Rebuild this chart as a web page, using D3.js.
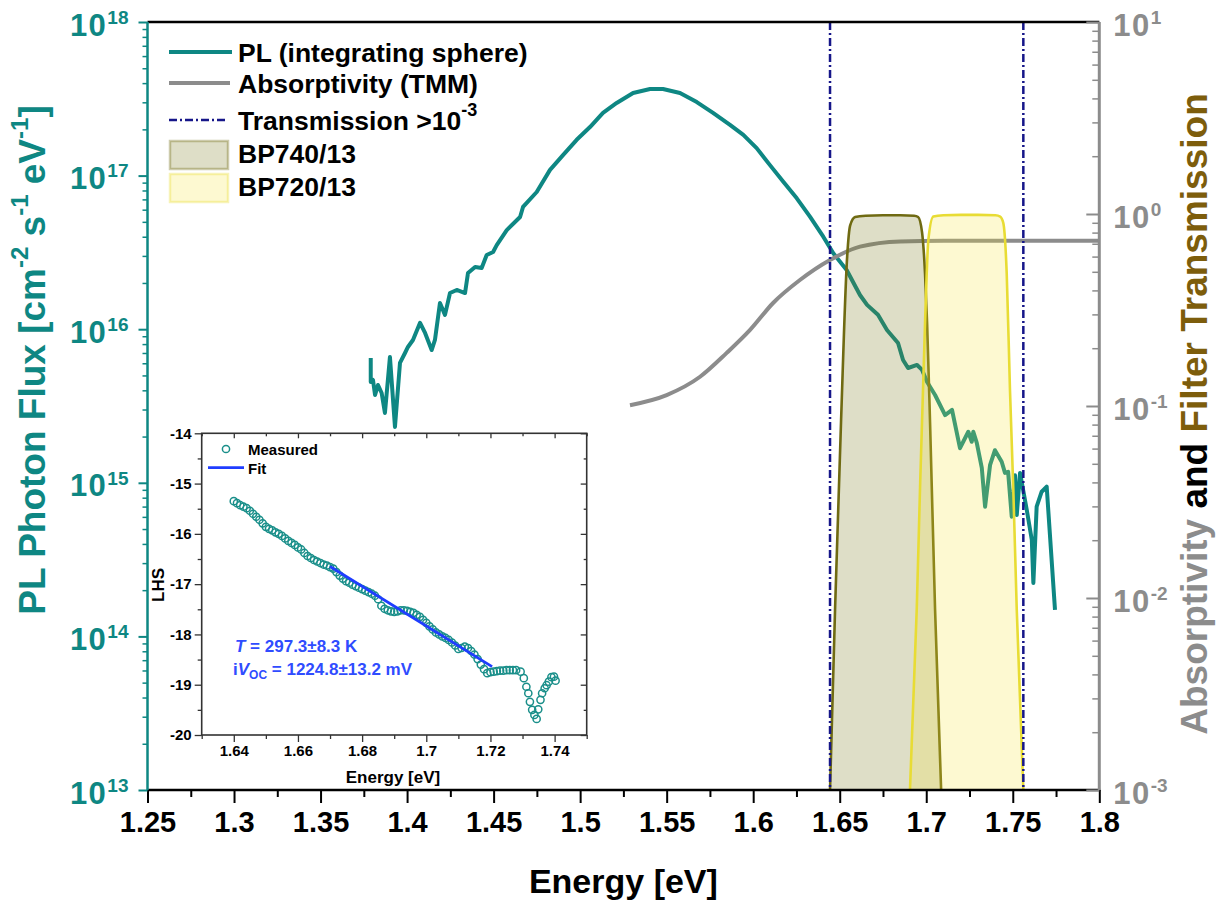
<!DOCTYPE html>
<html lang="en">
<head>
<meta charset="utf-8"/>
<script src="https://d3js.org/d3.v7.min.js"></script>
<style>
  body { margin: 0; background: #fff; }
  svg { font-family: "Liberation Sans", Arial, sans-serif; font-weight: bold; }
</style>
</head>
<body>
<svg id="chart" width="1224" height="902"></svg>
<script>
// ---- data ----
const xTicks = [1.25, 1.3, 1.35, 1.4, 1.45, 1.5, 1.55, 1.6, 1.65, 1.7, 1.75, 1.8];
const leftExp = [13, 14, 15, 16, 17, 18];
const rightExp = [-3, -2, -1, 0, 1];

const plE = [1.3790,1.3790,1.3803,1.3815,1.3832,1.3853,1.3872,1.3901,1.3930,1.3959,
  1.3988,1.4005,1.4034,1.4075,1.4104,1.4142,1.4161,1.4190,1.4219,1.4248,
  1.4287,1.4335,1.4352,1.4393,1.4431,1.4460,1.4497,1.4518,1.4576,1.4653,
  1.4670,1.4749,1.4826,1.4901,1.4980,1.5057,1.5132,1.5211,1.5306,1.5404,
  1.5479,1.5577,1.5674,1.5768,1.5866,1.5943,1.6020,1.6097,1.6174,1.6252,
  1.6328,1.6405,1.6463,1.6540,1.6617,1.6658,1.6721,1.6773,1.6837,1.6866,
  1.6895,1.6947,1.6976,1.7005,1.7051,1.7109,1.7149,1.7195,1.7243,1.7263,
  1.7272,1.7292,1.7321,1.7340,1.7369,1.7397,1.7436,1.7455,1.7473,1.7494,
  1.7513,1.7523,1.7542,1.7581,1.7610,1.7619,1.7638,1.7667,1.7696,1.7744];
const plFlux = [6.49e15,4.53e15,4.67e15,3.73e15,4.33e15,3.84e15,2.85e15,6.59e15,2.31e15,6.03e15,
  7.00e15,7.66e15,8.51e15,1.10e16,9.45e15,7.32e15,8.51e15,1.48e16,1.24e16,1.72e16,
  1.80e16,1.72e16,2.32e16,2.54e16,2.50e16,3.04e16,3.18e16,3.53e16,4.42e16,5.38e16,
  6.25e16,7.82e16,1.09e17,1.36e17,1.71e17,2.07e17,2.56e17,2.97e17,3.45e17,3.66e17,
  3.66e17,3.45e17,3.01e17,2.56e17,2.14e17,1.84e17,1.51e17,1.17e17,9.13e16,7.11e16,
  5.40e16,4.00e16,3.12e16,2.43e16,1.67e16,1.44e16,1.24e16,9.88e15,8.13e15,6.30e15,
  5.59e15,5.85e15,5.43e15,4.53e15,3.73e15,2.76e15,2.98e15,1.68e15,2.15e15,1.85e15,
  2.15e15,1.82e15,1.25e15,6.99e14,1.31e15,1.63e15,1.37e15,1.16e15,1.18e15,6.02e14,
  1.12e15,6.17e14,1.16e15,6.65e14,4.24e14,2.23e14,6.99e14,8.75e14,9.43e14,1.49e14];

const absE = [1.5288, 1.5500, 1.5693, 1.5847, 1.5982, 1.6115, 1.6270, 1.6444, 1.6617, 1.6850, 1.7100, 1.8000];
const absA = [0.101, 0.114, 0.142, 0.189, 0.249, 0.344, 0.453, 0.576, 0.676, 0.720, 0.725, 0.725];

const bp740E = [1.6444, 1.6473, 1.6508, 1.6543, 1.6560, 1.6589, 1.6650, 1.6750, 1.6850, 1.6930, 1.6953, 1.6976, 1.6993, 1.7005, 1.7022, 1.7051, 1.7086];
const bp740T = [0.001, 0.0087, 0.085, 0.60, 0.87, 0.965, 0.98, 0.985, 0.985, 0.98, 0.965, 0.80, 0.49, 0.27, 0.082, 0.0087, 0.001];
const bp720E = [1.6906, 1.6945, 1.6964, 1.6993, 1.7012, 1.7041, 1.7100, 1.7200, 1.7300, 1.7400, 1.7427, 1.7445, 1.7465, 1.7484, 1.7503, 1.7523, 1.7561];
const bp720T = [0.001, 0.0087, 0.037, 0.27, 0.73, 0.97, 0.985, 0.99, 0.99, 0.985, 0.97, 0.90, 0.49, 0.12, 0.037, 0.0087, 0.001];
const transLimits = [1.6444, 1.7561];

// inset: LHS vs energy
const insetE = [1.640,1.641,1.642,1.643,1.644,1.645,1.646,1.647,1.648,1.649,
  1.650,1.651,1.652,1.653,1.654,1.655,1.656,1.657,1.658,1.659,
  1.660,1.661,1.662,1.663,1.664,1.665,1.666,1.667,1.668,1.669,
  1.670,1.671,1.672,1.673,1.674,1.675,1.676,1.677,1.678,1.679,
  1.680,1.681,1.682,1.683,1.684,1.685,1.686,1.687,1.688,1.689,
  1.690,1.691,1.692,1.693,1.694,1.695,1.696,1.697,1.698,1.699,
  1.700,1.701,1.702,1.703,1.704,1.705,1.706,1.707,1.708,1.709,
  1.710,1.711,1.712,1.713,1.714,1.715,1.716,1.717,1.718,1.719,
  1.720,1.721,1.722,1.723,1.724,1.725,1.726,1.727,1.728,
  1.7294,1.7304,1.7312,1.7318,1.7323,1.7330,1.7337,1.7344,1.7349,1.7356,
  1.7361,1.7369,1.7375,1.7382,1.7390,1.7398,1.7403];
const insetLHS = [-15.35,-15.39,-15.43,-15.46,-15.49,-15.54,-15.60,-15.66,-15.72,-15.79,
  -15.86,-15.90,-15.93,-15.97,-16.00,-16.04,-16.09,-16.14,-16.18,-16.22,
  -16.27,-16.31,-16.38,-16.44,-16.48,-16.52,-16.55,-16.58,-16.61,-16.63,
  -16.66,-16.69,-16.76,-16.83,-16.89,-16.94,-16.97,-17.01,-17.04,-17.07,
  -17.10,-17.13,-17.16,-17.19,-17.23,-17.30,-17.43,-17.49,-17.52,-17.54,
  -17.55,-17.54,-17.52,-17.52,-17.53,-17.55,-17.57,-17.61,-17.65,-17.71,
  -17.77,-17.84,-17.90,-17.96,-18.00,-18.04,-18.07,-18.11,-18.16,-18.22,
  -18.29,-18.27,-18.24,-18.27,-18.33,-18.40,-18.49,-18.60,-18.69,-18.77,
  -18.75,-18.74,-18.73,-18.72,-18.72,-18.71,-18.71,-18.71,-18.71,
  -18.74,-18.87,-19.04,-19.17,-19.34,-19.50,-19.60,-19.68,-19.49,-19.30,
  -19.17,-19.07,-19.01,-18.94,-18.85,-18.84,-18.92];
const fitE = [1.670, 1.7205];
const fitLHS = [-16.65, -18.64];
const insetXTicks = [1.64, 1.66, 1.68, 1.7, 1.72, 1.74];
const insetYTicks = [-20, -19, -18, -17, -16, -15, -14];

// ---- colours ----
const teal = "#0e8783", gray = "#8c8c8c", navy = "#161689";
const olive = "#6f6a12", yellowLine = "#e8dc34";

const svg = d3.select("#chart");
const L = 147.5, R = 1099.3, T = 22, B = 790;

const x = d3.scaleLinear().domain([1.25, 1.8]).range([L, R]);
const yL = d3.scaleLog().domain([1e13, 1e18]).range([B, T]);
const yR = d3.scaleLog().domain([1e-3, 10]).range([B, T]);

function logMinors(e0, e1) {
  const out = [];
  for (let e = e0; e < e1; e++) for (let m = 2; m <= 9; m++) out.push(m * Math.pow(10, e));
  return out;
}

// ---- main curves ----
const pl = plE.map((e, i) => [e, plFlux[i]]);
svg.append("path")
  .attr("d", d3.line().x(d => x(d[0])).y(d => yL(d[1]))(pl))
  .attr("fill", "none").attr("stroke", teal).attr("stroke-width", 4)
  .attr("stroke-linejoin", "round");

const ab = absE.map((e, i) => [e, absA[i]]);
svg.append("path")
  .attr("d", d3.line().curve(d3.curveMonotoneX).x(d => x(d[0])).y(d => yR(d[1]))(ab))
  .attr("fill", "none").attr("stroke", gray).attr("stroke-width", 4);

function filter(E, Tr, fill, stroke) {
  const d = E.map((e, i) => [e, Tr[i]]);
  svg.append("path")
    .attr("d", d3.area().curve(d3.curveMonotoneX).x(p => x(p[0])).y0(yR(1e-3)).y1(p => yR(p[1]))(d))
    .attr("fill", fill);
  svg.append("path")
    .attr("d", d3.line().curve(d3.curveMonotoneX).x(p => x(p[0])).y(p => yR(p[1]))(d))
    .attr("fill", "none").attr("stroke", stroke).attr("stroke-width", 2.6);
}
filter(bp740E, bp740T, "rgba(125,125,30,0.25)", olive);
filter(bp720E, bp720T, "rgba(245,230,55,0.23)", yellowLine);

svg.selectAll(".lim").data(transLimits).enter().append("line")
  .attr("x1", d => x(d)).attr("x2", d => x(d)).attr("y1", T).attr("y2", B)
  .attr("stroke", navy).attr("stroke-width", 2.5).attr("stroke-dasharray", "8,3,2,3");

// ---- axes ----
const gx = svg.append("g").attr("transform", `translate(0,${B})`)
  .call(d3.axisBottom(x).tickValues(xTicks).tickSize(13).tickPadding(8).tickFormat(d => String(d)));
gx.select(".domain").remove();
gx.selectAll("line").attr("stroke", "#000").attr("stroke-width", 2);
gx.selectAll("text").attr("font-size", 29).attr("fill", "#000");
const xMinor = xTicks.slice(0, -1).map(d => d + 0.025);
svg.append("g").attr("transform", `translate(0,${B})`)
  .call(d3.axisBottom(x).tickValues(xMinor).tickSize(7).tickFormat(""))
  .call(g => g.select(".domain").remove())
  .selectAll("line").attr("stroke", "#000").attr("stroke-width", 2);
svg.append("line").attr("x1", L).attr("x2", R + 1).attr("y1", B).attr("y2", B).attr("stroke", "#000").attr("stroke-width", 2.5);
svg.append("line").attr("x1", L).attr("x2", R).attr("y1", T).attr("y2", T).attr("stroke", "#000").attr("stroke-width", 2.5);

function supLabels(sel, color) {
  sel.selectAll(".tick text").each(function(d) {
    const t = d3.select(this).text(null).attr("fill", color).attr("dy", null).attr("y", 13);
    t.append("tspan").attr("font-size", 31).attr("letter-spacing", 1.5).text("10");
    t.append("tspan").attr("font-size", 19).attr("dy", "-0.62em").text(Math.round(Math.log10(d)));
  });
}

const gl = svg.append("g").attr("transform", `translate(${L},0)`)
  .call(d3.axisLeft(yL).tickValues(leftExp.map(e => Math.pow(10, e))).tickSize(9).tickPadding(10));
gl.select(".domain").remove();
gl.selectAll("line").attr("stroke", teal).attr("stroke-width", 2);
supLabels(gl, teal);
svg.append("g").attr("transform", `translate(${L},0)`)
  .call(d3.axisLeft(yL).tickValues(logMinors(13, 18)).tickSize(5).tickFormat(""))
  .call(g => g.select(".domain").remove())
  .selectAll("line").attr("stroke", teal).attr("stroke-width", 1.5);
svg.append("line").attr("x1", L).attr("x2", L).attr("y1", T).attr("y2", B).attr("stroke", teal).attr("stroke-width", 2.5);

const gr = svg.append("g").attr("transform", `translate(${R},0)`)
  .call(d3.axisRight(yR).tickValues(rightExp.map(e => Math.pow(10, e))).tickSize(-13).tickPadding(14));
gr.select(".domain").remove();
gr.selectAll("line").attr("stroke", gray).attr("stroke-width", 2);
supLabels(gr, gray);
svg.append("g").attr("transform", `translate(${R},0)`)
  .call(d3.axisLeft(yR).tickValues(logMinors(-3, 1)).tickSize(7).tickFormat(""))
  .call(g => g.select(".domain").remove())
  .selectAll("line").attr("stroke", gray).attr("stroke-width", 1.5);
svg.append("line").attr("x1", R).attr("x2", R).attr("y1", T).attr("y2", B).attr("stroke", gray).attr("stroke-width", 3);

// ---- axis titles ----
svg.append("text").attr("x", (L + R) / 2).attr("y", 893).attr("text-anchor", "middle")
  .attr("font-size", 34).attr("fill", "#000").text("Energy [eV]");

const lt = svg.append("text").attr("transform", "translate(45,360) rotate(-90)")
  .attr("text-anchor", "middle").attr("font-size", 37).attr("fill", teal);
lt.append("tspan").text("PL Photon Flux [cm");
lt.append("tspan").attr("font-size", 24).attr("dy", "-0.7em").text("-2");
lt.append("tspan").attr("dy", "0.45em").text(" s");
lt.append("tspan").attr("font-size", 24).attr("dy", "-0.7em").text("-1");
lt.append("tspan").attr("dy", "0.45em").text(" eV");
lt.append("tspan").attr("font-size", 24).attr("dy", "-0.7em").text("-1");
lt.append("tspan").attr("dy", "0.45em").text("]");

const rt = svg.append("text").attr("transform", "translate(1207,414) rotate(-90)")
  .attr("text-anchor", "middle").attr("font-size", 37);
rt.append("tspan").attr("fill", gray).text("Absorptivity ");
rt.append("tspan").attr("fill", "#000").text("and ");
rt.append("tspan").attr("fill", "#7d5d0c").text("Filter Transmission");

// ---- legend ----
const lg = svg.append("g").attr("font-size", 26.5).attr("fill", "#000");
lg.append("line").attr("x1", 169).attr("x2", 232).attr("y1", 52).attr("y2", 52).attr("stroke", teal).attr("stroke-width", 4);
lg.append("text").attr("x", 238).attr("y", 61.5).text("PL (integrating sphere)");
lg.append("line").attr("x1", 169).attr("x2", 230).attr("y1", 83).attr("y2", 83).attr("stroke", gray).attr("stroke-width", 4);
lg.append("text").attr("x", 238).attr("y", 93).text("Absorptivity (TMM)");
lg.append("line").attr("x1", 169).attr("x2", 226).attr("y1", 120).attr("y2", 120).attr("stroke", navy).attr("stroke-width", 2.5).attr("stroke-dasharray", "8,3,2,3");
const tl = lg.append("text").attr("x", 238).attr("y", 130);
tl.append("tspan").text("Transmission >10");
tl.append("tspan").attr("font-size", 18).attr("dy", "-0.8em").text("-3");
lg.append("rect").attr("x", 170).attr("y", 141).attr("width", 58).attr("height", 28)
  .attr("fill", "rgba(125,125,30,0.25)").attr("stroke", "rgba(111,106,18,0.35)").attr("stroke-width", 2.5);
lg.append("text").attr("x", 238).attr("y", 163).text("BP740/13");
lg.append("rect").attr("x", 170).attr("y", 174).attr("width", 58).attr("height", 28)
  .attr("fill", "rgba(245,230,55,0.23)").attr("stroke", "rgba(232,220,52,0.35)").attr("stroke-width", 2.5);
lg.append("text").attr("x", 238).attr("y", 196).text("BP720/13");

// ---- inset ----
const iL = 201.7, iR = 586.7, iT = 433.3, iB = 735;
const ix = d3.scaleLinear().domain([1.63, 1.75]).range([iL, iR]);
const iy = d3.scaleLinear().domain([-20, -14]).range([iB, iT]);
const ins = svg.append("g");
ins.append("rect").attr("x", iL).attr("y", iT).attr("width", iR - iL).attr("height", iB - iT)
  .attr("fill", "#fff").attr("stroke", "#333").attr("stroke-width", 1.6);

const ixMinor = [1.63, 1.65, 1.67, 1.69, 1.71, 1.73, 1.75];
const iyMinor = [-19.5, -18.5, -17.5, -16.5, -15.5, -14.5];
function insetAxis(axis, tr, vals, size, fmt, fs) {
  const g = ins.append("g").attr("transform", tr)
    .call(axis.tickValues(vals).tickSize(size).tickPadding(3).tickFormat(fmt));
  g.select(".domain").remove();
  g.selectAll("line").attr("stroke", "#333").attr("stroke-width", 1.3);
  g.selectAll("text").attr("font-size", fs).attr("fill", "#000");
  return g;
}
insetAxis(d3.axisBottom(ix), `translate(0,${iB})`, insetXTicks, 7, d => String(d), 15);
insetAxis(d3.axisBottom(ix), `translate(0,${iB})`, ixMinor, 4, "", 15);
insetAxis(d3.axisLeft(iy), `translate(${iL},0)`, insetYTicks, 7, d => String(d), 15);
insetAxis(d3.axisLeft(iy), `translate(${iL},0)`, iyMinor, 4, "", 15);
insetAxis(d3.axisTop(ix), `translate(0,${iT})`, insetXTicks, -5, "", 15);
insetAxis(d3.axisTop(ix), `translate(0,${iT})`, ixMinor, -3, "", 15);
insetAxis(d3.axisRight(iy), `translate(${iR},0)`, insetYTicks, -6, "", 15);
insetAxis(d3.axisRight(iy), `translate(${iR},0)`, iyMinor, -3, "", 15);

ins.selectAll(".pt").data(insetE.map((e, i) => [e, insetLHS[i]])).enter().append("circle")
  .attr("cx", d => ix(d[0])).attr("cy", d => iy(d[1])).attr("r", 3.6)
  .attr("fill", "none").attr("stroke", "#1a8f8a").attr("stroke-width", 1.5);

ins.append("path")
  .attr("d", d3.line().x(d => ix(d[0])).y(d => iy(d[1]))(fitE.map((e, i) => [e, fitLHS[i]])))
  .attr("stroke", "#1f3dff").attr("stroke-width", 2.8).attr("fill", "none");

ins.append("text").attr("x", 393).attr("y", 783).attr("text-anchor", "middle").attr("font-size", 17).text("Energy [eV]");
ins.append("text").attr("transform", "translate(164,585) rotate(-90)").attr("text-anchor", "middle").attr("font-size", 17).text("LHS");

ins.append("circle").attr("cx", 226).attr("cy", 449).attr("r", 3.6).attr("fill", "none").attr("stroke", "#1a8f8a").attr("stroke-width", 1.5);
ins.append("text").attr("x", 248).attr("y", 454.5).attr("font-size", 15).text("Measured");
ins.append("line").attr("x1", 208).attr("x2", 244).attr("y1", 467.7).attr("y2", 467.7).attr("stroke", "#1f3dff").attr("stroke-width", 2.8);
ins.append("text").attr("x", 248).attr("y", 473.5).attr("font-size", 15).text("Fit");

const blueTxt = "#2f4cff";
const t1 = ins.append("text").attr("x", 235).attr("y", 652).attr("font-size", 17).attr("fill", blueTxt);
t1.append("tspan").attr("font-style", "italic").text("T");
t1.append("tspan").text(" = 297.3\u00b18.3 K");
const t2 = ins.append("text").attr("x", 233).attr("y", 675).attr("font-size", 17).attr("fill", blueTxt);
t2.append("tspan").text("i");
t2.append("tspan").attr("font-style", "italic").text("V");
t2.append("tspan").attr("font-size", 12).attr("dy", "0.3em").text("OC");
t2.append("tspan").attr("dy", "-0.21em").text(" = 1224.8\u00b113.2 mV");
</script>
</body>
</html>
